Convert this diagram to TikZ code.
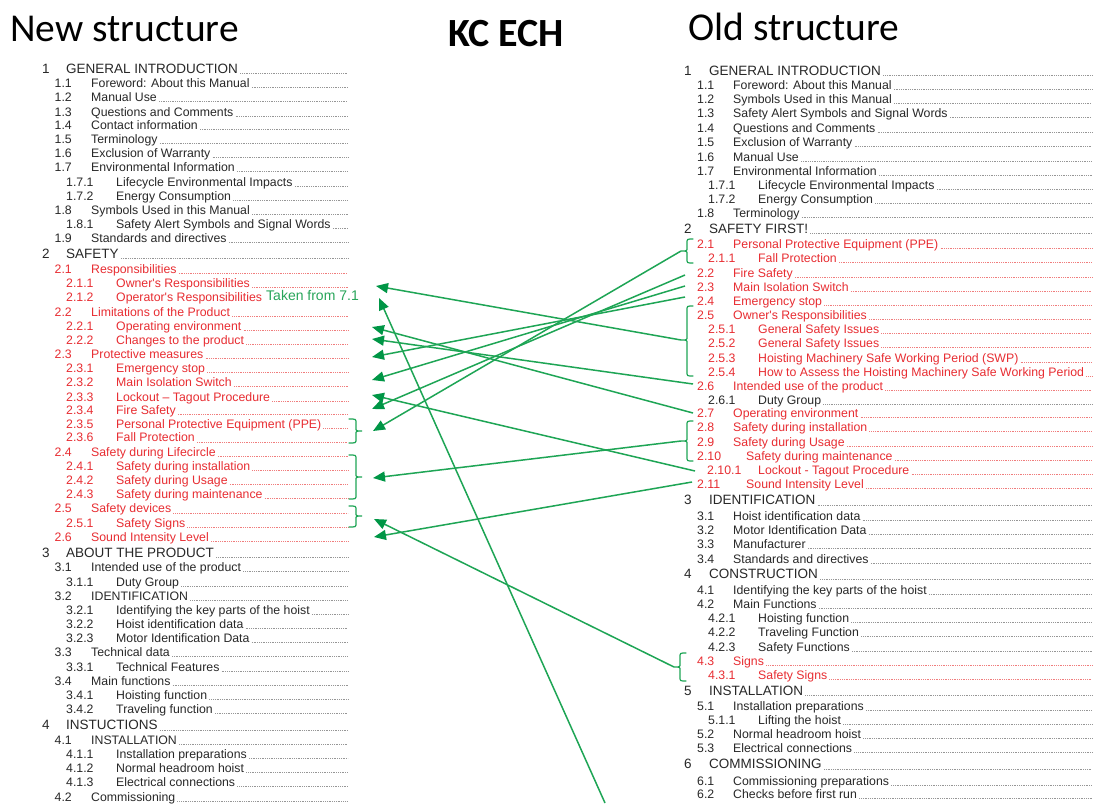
\documentclass[tikz,border=0pt]{standalone}
\usepackage{fontspec}
\usetikzlibrary{arrows.meta}
\newfontfamily\tocfont{Liberation Sans}
\newfontfamily\ttlfont{Carlito}
\definecolor{tblack}{RGB}{40,40,40}
\definecolor{tred}{RGB}{232,45,50}
\definecolor{gline}{RGB}{30,165,85}
\definecolor{ghead}{RGB}{0,150,70}
\definecolor{gtext}{RGB}{40,165,90}
\definecolor{ldot}{RGB}{150,150,150}
\definecolor{rdot}{RGB}{240,125,125}
% #1 name #2 style #3 numx #4 textx #5 y #6 number #7 text #8 leader end
\newcommand\tocrow[8]{%
  \node[#2] (#1n) at (#3,#5) {#6};
  \node[#2] (#1) at (#4,#5) {#7};
  \draw[#2 lead] ([xshift=2pt]#1.base east) -- (#1.base east -| #8);}
\newcommand\tocrowx[7]{%
  \node[#2] (#1n) at (#3,#5) {#6};
  \node[#2] (#1) at (#4,#5) {#7};}
\newcommand\lrowH[4]{\tocrow{#1}{tocH}{42}{66}{#2}{#3}{#4}{LE}}
\newcommand\lrowB[4]{\tocrow{#1}{tocB}{54.5}{91}{#2}{#3}{#4}{LE}}
\newcommand\lrowC[4]{\tocrow{#1}{tocB}{66}{116}{#2}{#3}{#4}{LE}}
\newcommand\lrowBr[4]{\tocrow{#1}{tocR}{54.5}{91}{#2}{#3}{#4}{LE}}
\newcommand\lrowCr[4]{\tocrow{#1}{tocR}{66}{116}{#2}{#3}{#4}{LE}}
\newcommand\rrowH[4]{\tocrow{#1}{tocH}{684}{709}{#2}{#3}{#4}{RE}}
\newcommand\rrowB[4]{\tocrow{#1}{tocB}{697}{733}{#2}{#3}{#4}{RE}}
\newcommand\rrowC[4]{\tocrow{#1}{tocB}{708}{758}{#2}{#3}{#4}{RE}}
\newcommand\rrowBr[4]{\tocrow{#1}{tocR}{697}{733}{#2}{#3}{#4}{RE}}
\newcommand\rrowCr[4]{\tocrow{#1}{tocR}{708}{758}{#2}{#3}{#4}{RE}}
% curly bracket: #1 end x, #2 body x, #3 tip x, #4 top y, #5 mid y, #6 bottom y, #7 tip name
\newcommand\gbrace[7]{%
  \draw[brc] (#1,#4) .. controls (#2,#4) .. (#2,#4+4) -- (#2,#5-3)
     .. controls (#2,#5) .. (#3,#5) .. controls (#2,#5) .. (#2,#5+3)
     -- (#2,#6-4) .. controls (#2,#6) .. (#1,#6);
  \coordinate (#7) at (#3,#5);}
\tikzset{
  rowbase/.style={anchor=base west, inner sep=0pt},
  tocH/.style={rowbase, text=tblack, font=\tocfont\fontsize{13.5}{15}\selectfont, yshift=-4.8pt},
  tocB/.style={rowbase, text=tblack, font=\tocfont\fontsize{12.3}{14}\selectfont, yshift=-4.4pt},
  tocR/.style={rowbase, text=tred, font=\tocfont\fontsize{12.3}{14}\selectfont, yshift=-4.4pt},
  tocH lead/.style={draw=ldot, line width=0.6pt, dash pattern=on 0.6pt off 1.2pt},
  tocB lead/.style={draw=ldot, line width=0.6pt, dash pattern=on 0.6pt off 1.2pt},
  tocR lead/.style={draw=rdot, line width=0.6pt, dash pattern=on 0.9pt off 0.9pt},
  brc/.style={draw=gline, line width=1.2pt, line cap=round},
  conn/.style={draw=gline, line width=1.5pt, -{Triangle[length=12pt, width=10pt, color=ghead, fill=ghead]}},
  title/.style={anchor=base west, inner sep=0pt, text=black},
}
\begin{document}
\begin{tikzpicture}[x=1pt, y=-1pt]
\useasboundingbox (0,0) rectangle (1094,803);
\fill[white] (0,0) rectangle (1094,803);
\coordinate (LE) at (348,0);
\coordinate (RE) at (1092,0);

% titles
\node[title, font=\ttlfont\fontsize{39.5}{42}\selectfont] (tnew) at (10,41) {New structure};
\node[title, font=\ttlfont\bfseries\fontsize{40}{42}\selectfont] (tkc) at (448,46) {KC ECH};
\node[title, font=\ttlfont\fontsize{39.5}{42}\selectfont] (told) at (688,40) {Old structure};

% ---------------- left column (new structure)
\lrowH{L1}{68.3}{1}{GENERAL INTRODUCTION}
\lrowB{L1-1}{83.3}{1.1}{Foreword: About this Manual}
\lrowB{L1-2}{96.7}{1.2}{Manual Use}
\lrowB{L1-3}{111.7}{1.3}{Questions and Comments}
\lrowB{L1-4}{125}{1.4}{Contact information}
\lrowB{L1-5}{139.3}{1.5}{Terminology}
\lrowB{L1-6}{153.3}{1.6}{Exclusion of Warranty}
\lrowB{L1-7}{167.3}{1.7}{Environmental Information}
\lrowC{L1-7-1}{181.7}{1.7.1}{Lifecycle Environmental Impacts}
\lrowC{L1-7-2}{196}{1.7.2}{Energy Consumption}
\lrowB{L1-8}{210}{1.8}{Symbols Used in this Manual}
\lrowC{L1-8-1}{224}{1.8.1}{Safety Alert Symbols and Signal Words}
\lrowB{L1-9}{238.3}{1.9}{Standards and directives}
\lrowH{L2}{253.3}{2}{SAFETY}
\lrowBr{L2-1}{269}{2.1}{Responsibilities}
\lrowCr{L2-1-1}{283.3}{2.1.1}{Owner's Responsibilities}
\tocrowx{L2-1-2}{tocR}{66}{116}{297.3}{2.1.2}{Operator's Responsibilities}
\lrowBr{L2-2}{311.7}{2.2}{Limitations of the Product}
\lrowCr{L2-2-1}{325.7}{2.2.1}{Operating environment}
\lrowCr{L2-2-2}{340}{2.2.2}{Changes to the product}
\lrowBr{L2-3}{354}{2.3}{Protective measures}
\lrowCr{L2-3-1}{368.3}{2.3.1}{Emergency stop}
\lrowCr{L2-3-2}{382.3}{2.3.2}{Main Isolation Switch}
\lrowCr{L2-3-3}{396.7}{2.3.3}{Lockout – Tagout Procedure}
\lrowCr{L2-3-4}{410}{2.3.4}{Fire Safety}
\lrowCr{L2-3-5}{424.3}{2.3.5}{Personal Protective Equipment (PPE)}
\lrowCr{L2-3-6}{437.5}{2.3.6}{Fall Protection}
\lrowBr{L2-4}{451.7}{2.4}{Safety during Lifecircle}
\lrowCr{L2-4-1}{466}{2.4.1}{Safety during installation}
\lrowCr{L2-4-2}{480}{2.4.2}{Safety during Usage}
\lrowCr{L2-4-3}{494}{2.4.3}{Safety during maintenance}
\lrowBr{L2-5}{508.5}{2.5}{Safety devices}
\lrowCr{L2-5-1}{522.7}{2.5.1}{Safety Signs}
\lrowBr{L2-6}{536.7}{2.6}{Sound Intensity Level}
\lrowH{L3}{552.7}{3}{ABOUT THE PRODUCT}
\lrowB{L3-1}{567.3}{3.1}{Intended use of the product}
\lrowC{L3-1-1}{581.7}{3.1.1}{Duty Group}
\lrowB{L3-2}{595.7}{3.2}{IDENTIFICATION}
\lrowC{L3-2-1}{610}{3.2.1}{Identifying the key parts of the hoist}
\lrowC{L3-2-2}{624}{3.2.2}{Hoist identification data}
\lrowC{L3-2-3}{638.3}{3.2.3}{Motor Identification Data}
\lrowB{L3-3}{652.3}{3.3}{Technical data}
\lrowC{L3-3-1}{666.7}{3.3.1}{Technical Features}
\lrowB{L3-4}{680.7}{3.4}{Main functions}
\lrowC{L3-4-1}{695}{3.4.1}{Hoisting function}
\lrowC{L3-4-2}{709}{3.4.2}{Traveling function}
\lrowH{L4}{725}{4}{INSTUCTIONS}
\lrowB{L4-1}{740}{4.1}{INSTALLATION}
\lrowC{L4-1-1}{754.3}{4.1.1}{Installation preparations}
\lrowC{L4-1-2}{768.3}{4.1.2}{Normal headroom hoist}
\lrowC{L4-1-3}{782.3}{4.1.3}{Electrical connections}
\lrowB{L4-2}{797.3}{4.2}{Commissioning}

\node[anchor=base west, inner sep=0pt, text=gtext, font=\tocfont\fontsize{14}{16}\selectfont] (taken) at (266,300.5) {Taken from 7.1};

% ---------------- right column (old structure)
\rrowH{R1}{70.7}{1}{GENERAL INTRODUCTION}
\rrowB{R1-1}{85}{1.1}{Foreword: About this Manual}
\rrowB{R1-2}{99}{1.2}{Symbols Used in this Manual}
\rrowB{R1-3}{113.3}{1.3}{Safety Alert Symbols and Signal Words}
\rrowB{R1-4}{128}{1.4}{Questions and Comments}
\rrowB{R1-5}{142.3}{1.5}{Exclusion of Warranty}
\rrowB{R1-6}{156.7}{1.6}{Manual Use}
\rrowB{R1-7}{170.7}{1.7}{Environmental Information}
\rrowC{R1-7-1}{185}{1.7.1}{Lifecycle Environmental Impacts}
\rrowC{R1-7-2}{199}{1.7.2}{Energy Consumption}
\rrowB{R1-8}{213.3}{1.8}{Terminology}
\rrowH{R2}{228.3}{2}{SAFETY FIRST!}
\rrowBr{R2-1}{244}{2.1}{Personal Protective Equipment (PPE)}
\rrowCr{R2-1-1}{258.3}{2.1.1}{Fall Protection}
\rrowBr{R2-2}{272.7}{2.2}{Fire Safety}
\rrowBr{R2-3}{286.7}{2.3}{Main Isolation Switch}
\rrowBr{R2-4}{300.7}{2.4}{Emergency stop}
\rrowBr{R2-5}{315}{2.5}{Owner's Responsibilities}
\rrowCr{R2-5-1}{329}{2.5.1}{General Safety Issues}
\rrowCr{R2-5-2}{343.3}{2.5.2}{General Safety Issues}
\rrowCr{R2-5-3}{357.7}{2.5.3}{Hoisting Machinery Safe Working Period (SWP)}
\rrowCr{R2-5-4}{371.7}{2.5.4}{How to Assess the Hoisting Machinery Safe Working Period}
\rrowBr{R2-6}{385.7}{2.6}{Intended use of the product}
\rrowC{R2-6-1}{400}{2.6.1}{Duty Group}
\rrowBr{R2-7}{413.3}{2.7}{Operating environment}
\rrowBr{R2-8}{427.3}{2.8}{Safety during installation}
\rrowBr{R2-9}{441.7}{2.9}{Safety during Usage}
\tocrow{R2-10}{tocR}{697}{746}{455.7}{2.10}{Safety during maintenance}{RE}
\tocrow{R2-10-1}{tocR}{707}{758}{470}{2.10.1}{Lockout - Tagout Procedure}{RE}
\tocrow{R2-11}{tocR}{697}{746}{484}{2.11}{Sound Intensity Level}{RE}
\rrowH{R3}{500}{3}{IDENTIFICATION}
\rrowB{R3-1}{516}{3.1}{Hoist identification data}
\rrowB{R3-2}{530}{3.2}{Motor Identification Data}
\rrowB{R3-3}{544.3}{3.3}{Manufacturer}
\rrowB{R3-4}{558.7}{3.4}{Standards and directives}
\rrowH{R4}{574}{4}{CONSTRUCTION}
\rrowB{R4-1}{590}{4.1}{Identifying the key parts of the hoist}
\rrowB{R4-2}{604}{4.2}{Main Functions}
\rrowC{R4-2-1}{618.3}{4.2.1}{Hoisting function}
\rrowC{R4-2-2}{632.3}{4.2.2}{Traveling Function}
\rrowC{R4-2-3}{646.7}{4.2.3}{Safety Functions}
\rrowBr{R4-3}{660.7}{4.3}{Signs}
\rrowCr{R4-3-1}{675}{4.3.1}{Safety Signs}
\rrowH{R5}{690.7}{5}{INSTALLATION}
\rrowB{R5-1}{706}{5.1}{Installation preparations}
\rrowC{R5-1-1}{720}{5.1.1}{Lifting the hoist}
\rrowB{R5-2}{734}{5.2}{Normal headroom hoist}
\rrowB{R5-3}{748.3}{5.3}{Electrical connections}
\rrowH{R6}{764}{6}{COMMISSIONING}
\rrowB{R6-1}{780.7}{6.1}{Commissioning preparations}
\rrowB{R6-2}{794.3}{6.2}{Checks before first run}

% ---------------- braces
\gbrace{349}{356}{362}{419}{431}{443}{bPPE}
\gbrace{349}{356}{362}{455}{477}{499}{bLife}
\gbrace{349}{356}{362}{506}{516}{527}{bDev}
\gbrace{693}{687}{681}{239}{251}{263}{bR21}
\gbrace{693}{687}{681}{306}{340}{376}{bR25}
\gbrace{693}{687}{681}{421}{441}{461}{bR28}
\gbrace{686}{680}{674}{653}{667}{681}{bR43}

% ---------------- connector end points
\coordinate (aOwn) at (376,286);
\coordinate (aTak) at (379,298);
\coordinate (a221) at (372,327);
\coordinate (a222) at (372,339);
\coordinate (a231) at (372,357);
\coordinate (a232) at (372,380);
\coordinate (a233) at (372,395);
\coordinate (a234) at (372,409);
\coordinate (aPPE) at (373,431);
\coordinate (aLife) at (373,478);
\coordinate (aDev) at (374,519);
\coordinate (a26) at (374,537);
\coordinate (s22) at (685,275);
\coordinate (s23) at (685,286);
\coordinate (s24) at (685,297);
\coordinate (s26) at (693,384);
\coordinate (s27) at (693,413);
\coordinate (s2101) at (695,471);
\coordinate (s211) at (692,482);
\coordinate (s71) at (605,803);

% ---------------- connectors
\draw[conn] (bR25) -- (aOwn);
\draw[conn] (s71) -- (aTak);
\draw[conn] (s27) -- (a221);
\draw[conn] (s26) -- (a222);
\draw[conn] (s24) -- (a231);
\draw[conn] (s23) -- (a232);
\draw[conn] (s2101) -- (a233);
\draw[conn] (s22) -- (a234);
\draw[conn] (bR21) -- (aPPE);
\draw[conn] (bR28) -- (aLife);
\draw[conn] (bR43) -- (aDev);
\draw[conn] (s211) -- (a26);
\end{tikzpicture}
\end{document}
